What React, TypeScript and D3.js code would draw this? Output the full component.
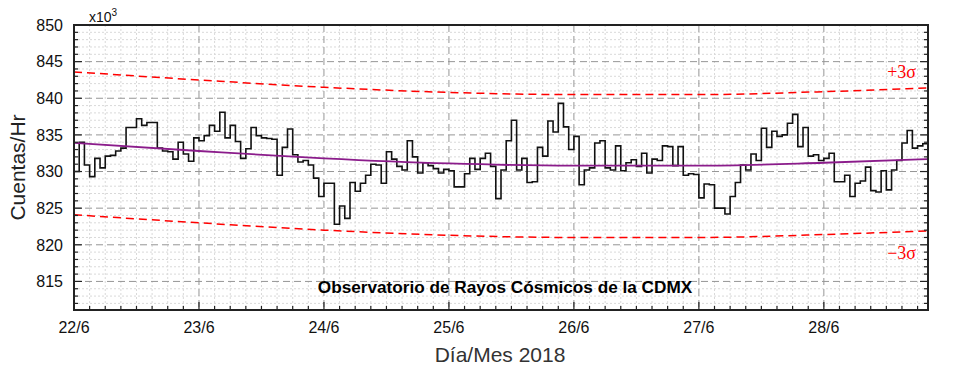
import { useEffect, useRef } from "react";
import * as d3 from "d3";

// hourly counts (x10^3), starting 22/6 00:00
const counts = [
  830.0, 834.0, 830.9, 829.3, 831.8, 830.5, 832.1, 832.2, 832.8, 833.2, 836.0, 836.0,
  837.2, 836.3, 836.7, 836.7, 833.2, 832.8, 832.7, 831.7, 834.0, 832.4, 831.4, 834.6,
  834.2, 834.9, 836.3, 835.5, 838.1, 834.6, 836.3, 834.1, 831.8, 833.1, 836.0, 834.9,
  834.6, 834.5, 834.4, 829.5, 833.3, 835.8, 832.3, 831.3, 831.5, 830.9, 829.1, 826.6,
  828.4, 828.4, 822.8, 825.3, 823.6, 828.5, 827.3, 828.4, 829.5, 831.0, 830.9, 828.4,
  832.7, 831.7, 830.7, 830.2, 834.2, 832.0, 829.8, 831.2, 830.8, 830.4, 829.8, 830.3,
  830.1, 827.9, 827.9, 829.7, 831.8, 830.3, 831.8, 832.5, 830.7, 826.3, 830.2, 834.2,
  837.0, 830.2, 831.8, 828.5, 828.6, 833.3, 832.1, 836.9, 835.4, 839.3, 836.1, 833.0,
  834.8, 828.2, 830.2, 830.5, 833.9, 834.2, 830.5, 830.2, 833.5, 830.1, 831.2, 831.6,
  830.7, 832.5, 829.8, 831.7, 831.5, 833.5, 833.4, 830.8, 833.4, 829.5, 829.7, 829.6,
  826.4, 828.3, 828.2, 825.0, 825.0, 824.2, 826.6, 828.5, 830.9, 830.2, 832.4, 831.5,
  835.9, 833.3, 835.5, 834.8, 835.0, 836.6, 837.8, 833.4, 836.0, 832.1, 832.3, 831.5,
  831.8, 832.5, 828.6, 828.6, 829.5, 826.6, 828.4, 828.7, 830.6, 827.4, 827.2, 830.1,
  827.5, 830.2, 831.5, 833.9, 835.6, 833.2, 833.5, 833.8,
];

const dayLabels = ["22/6", "23/6", "24/6", "25/6", "26/6", "27/6", "28/6"];

// trend and +-3 sigma bands, read at each day
const fitDays = [0, 1, 2, 3, 4, 5, 6, 6.833];
const fitValues = [833.9, 832.8, 831.8, 831.1, 830.8, 830.8, 831.2, 831.7];
const upperValues = [843.6, 842.5, 841.5, 840.8, 840.5, 840.5, 840.9, 841.4];
const lowerValues = [824.1, 823.0, 822.0, 821.3, 821.0, 821.0, 821.4, 821.9];

const yTicks = [815, 820, 825, 830, 835, 840, 845, 850];

export default function App() {
  const svgRef = useRef<SVGSVGElement>(null);
  const width = 954;
  const height = 386;

  useEffect(() => {
    const svg = d3.select(svgRef.current);
    svg.selectAll("*").remove();

    const left = 74;
    const right = 928;
    const top = 25;
    const bottom = 310;
    const hours = counts.length;

    const x = d3.scaleLinear().domain([0, hours]).range([left, right]);
    const y = d3.scaleLinear().domain([811.1, 850]).range([bottom, top]);

    // minor grid
    const g = svg.append("g");
    const minorH = d3.range(812, 851, 1).filter((v) => v % 5 !== 0);
    g.selectAll(".mh")
      .data(minorH)
      .join("line")
      .attr("x1", left)
      .attr("x2", right)
      .attr("y1", (d) => y(d))
      .attr("y2", (d) => y(d))
      .attr("stroke", "#d9d9d9")
      .attr("stroke-dasharray", "2,2");
    const minorV = d3.range(3, hours, 3).filter((v) => v % 24 !== 0);
    g.selectAll(".mv")
      .data(minorV)
      .join("line")
      .attr("x1", (d) => x(d))
      .attr("x2", (d) => x(d))
      .attr("y1", top)
      .attr("y2", bottom)
      .attr("stroke", "#d9d9d9")
      .attr("stroke-dasharray", "2,2");

    // major grid
    g.selectAll(".Mh")
      .data(yTicks.slice(0, -1))
      .join("line")
      .attr("x1", left)
      .attr("x2", right)
      .attr("y1", (d) => y(d))
      .attr("y2", (d) => y(d))
      .attr("stroke", "#969696")
      .attr("stroke-dasharray", "7,4");
    g.selectAll(".Mv")
      .data(dayLabels.slice(1))
      .join("line")
      .attr("x1", (d, i) => x((i + 1) * 24))
      .attr("x2", (d, i) => x((i + 1) * 24))
      .attr("y1", top)
      .attr("y2", bottom)
      .attr("stroke", "#969696")
      .attr("stroke-dasharray", "7,4");

    // sigma bands
    const band = d3
      .line<number>()
      .x((d, i) => x(fitDays[i] * 24))
      .y((d) => y(d))
      .curve(d3.curveMonotoneX);
    [upperValues, lowerValues].forEach((vals) => {
      svg
        .append("path")
        .attr("d", band(vals))
        .attr("fill", "none")
        .attr("stroke", "#ff0000")
        .attr("stroke-width", 1.5)
        .attr("stroke-dasharray", "8,5");
    });

    // counts as steps
    const stepData = [...counts, counts[counts.length - 1]];
    const step = d3
      .line<number>()
      .x((d, i) => x(i))
      .y((d) => y(d))
      .curve(d3.curveStepAfter);
    svg
      .append("path")
      .attr("d", step(stepData))
      .attr("fill", "none")
      .attr("stroke", "#111")
      .attr("stroke-width", 1.6);

    // trend
    svg
      .append("path")
      .attr("d", band(fitValues))
      .attr("fill", "none")
      .attr("stroke", "#8b1c8b")
      .attr("stroke-width", 1.8);

    // frame
    svg
      .append("rect")
      .attr("x", left)
      .attr("y", top)
      .attr("width", right - left)
      .attr("height", bottom - top)
      .attr("fill", "none")
      .attr("stroke", "#222")
      .attr("stroke-width", 2);

    // ticks (inward)
    const yMinor = d3.range(812, 850, 1);
    [left, right].forEach((ax) => {
      const dir = ax === left ? 1 : -1;
      svg
        .append("g")
        .selectAll("line")
        .data(yMinor)
        .join("line")
        .attr("x1", ax)
        .attr("x2", (d) => ax + dir * (d % 5 === 0 ? 8 : 4))
        .attr("y1", (d) => y(d))
        .attr("y2", (d) => y(d))
        .attr("stroke", "#222")
        .attr("stroke-width", 1.2);
    });
    svg
      .append("g")
      .selectAll("line")
      .data(d3.range(3, hours, 3))
      .join("line")
      .attr("x1", (d) => x(d))
      .attr("x2", (d) => x(d))
      .attr("y1", bottom)
      .attr("y2", (d) => bottom - (d % 24 === 0 ? 8 : 4))
      .attr("stroke", "#222")
      .attr("stroke-width", 1.2);

    // tick labels
    svg
      .append("g")
      .selectAll("text")
      .data(yTicks)
      .join("text")
      .attr("x", left - 11)
      .attr("y", (d) => y(d))
      .attr("dy", "0.36em")
      .attr("text-anchor", "end")
      .attr("font-family", "Liberation Sans, Arial, sans-serif")
      .attr("font-size", 16)
      .attr("fill", "#111")
      .text((d) => d);
    svg
      .append("g")
      .selectAll("text")
      .data(dayLabels)
      .join("text")
      .attr("x", (d, i) => x(i * 24))
      .attr("y", 333)
      .attr("text-anchor", "middle")
      .attr("font-family", "Liberation Sans, Arial, sans-serif")
      .attr("font-size", 16)
      .attr("fill", "#111")
      .text((d) => d);

    // multiplier
    const mult = svg
      .append("text")
      .attr("x", 89)
      .attr("y", 22)
      .attr("font-family", "Liberation Sans, Arial, sans-serif")
      .attr("font-size", 14)
      .attr("fill", "#111");
    mult.append("tspan").text("x10");
    mult.append("tspan").attr("font-size", 10).attr("dy", -6).text("3");

    // axis titles
    svg
      .append("text")
      .attr("transform", `translate(25,${(top + bottom) / 2}) rotate(-90)`)
      .attr("text-anchor", "middle")
      .attr("font-family", "Liberation Sans, Arial, sans-serif")
      .attr("font-size", 21)
      .attr("fill", "#222")
      .text("Cuentas/Hr");
    svg
      .append("text")
      .attr("x", 500)
      .attr("y", 362)
      .attr("text-anchor", "middle")
      .attr("font-family", "Liberation Sans, Arial, sans-serif")
      .attr("font-size", 21)
      .attr("fill", "#333")
      .text("Día/Mes 2018");

    // inner title
    svg
      .append("text")
      .attr("x", 505)
      .attr("y", 293)
      .attr("text-anchor", "middle")
      .attr("font-family", "Liberation Sans, Arial, sans-serif")
      .attr("font-weight", "bold")
      .attr("font-size", 17.2)
      .text("Observatorio de Rayos Cósmicos de la CDMX");

    // sigma labels
    svg
      .append("text")
      .attr("x", 916)
      .attr("y", 78)
      .attr("text-anchor", "end")
      .attr("font-family", "Liberation Serif, Times New Roman, serif")
      .attr("font-size", 18)
      .attr("fill", "#ff0000")
      .text("+3σ");
    svg
      .append("text")
      .attr("x", 916)
      .attr("y", 259)
      .attr("text-anchor", "end")
      .attr("font-family", "Liberation Serif, Times New Roman, serif")
      .attr("font-size", 18)
      .attr("fill", "#ff0000")
      .text("−3σ");
  }, []);

  return (
    <svg
      ref={svgRef}
      width={width}
      height={height}
      style={{ position: "absolute", left: 0, top: 0, background: "#fff" }}
    />
  );
}
